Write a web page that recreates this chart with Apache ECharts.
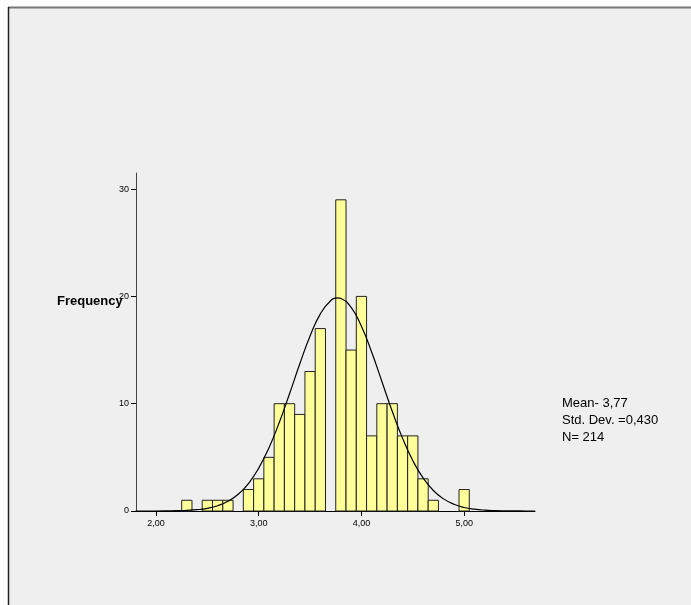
<!DOCTYPE html>
<html>
<head>
<meta charset="utf-8">
<script src="https://cdn.jsdelivr.net/npm/echarts@6/dist/echarts.min.js"></script>
<style>html,body{margin:0;padding:0;background:#fff;}#c{width:691px;height:605px;}</style>
</head>
<body>
<div id="c"></div>
<script>
// Histogram bins (centers) and frequencies
var binCenters = [2.3, 2.5, 2.6, 2.7, 2.9, 3.0, 3.1, 3.2, 3.3, 3.4, 3.5, 3.6, 3.8, 3.9, 4.0, 4.1, 4.2, 4.3, 4.4, 4.5, 4.6, 4.7, 5.0];
var frequencies = [1, 1, 1, 1, 2, 3, 5, 10, 10, 9, 13, 17, 29, 15, 20, 7, 10, 10, 7, 7, 3, 1, 2];
var binWidth = 0.1;
// Fitted normal curve as drawn (x, frequency)
var curveX = [1.8, 1.9, 2.0, 2.1, 2.2, 2.3, 2.4, 2.5, 2.6, 2.7, 2.8, 2.9, 3.0, 3.1, 3.2, 3.3, 3.4, 3.5, 3.6, 3.7, 3.77, 3.8, 3.9, 4.0, 4.1, 4.2, 4.3, 4.4, 4.5, 4.6, 4.7, 4.8, 4.9, 5.0, 5.1, 5.2, 5.3, 5.4, 5.5, 5.6, 5.69];
var curveY = [0.00, 0.00, 0.00, 0.01, 0.03, 0.06, 0.12, 0.25, 0.49, 0.90, 1.56, 2.56, 4.00, 5.90, 8.25, 10.93, 13.72, 16.31, 18.37, 19.60, 19.86, 19.81, 18.97, 17.21, 14.79, 12.05, 9.29, 6.79, 4.70, 3.08, 1.91, 1.13, 0.63, 0.33, 0.17, 0.08, 0.04, 0.02, 0.01, 0.00, 0.00];
var xTicks = [2, 3, 4, 5];
var yTicks = [0, 10, 20, 30];
var statsLines = ['Mean- 3,77', 'Std. Dev. =0,430', 'N= 214'];

var chart = echarts.init(document.getElementById('c'));
var font = 'Arial, "Liberation Sans", sans-serif';
var barData = binCenters.map(function (c, i) { return [c, frequencies[i]]; });
var curveData = curveX.map(function (x, i) { return [x, curveY[i]]; });

chart.setOption({
  animation: false,
  backgroundColor: '#ffffff',
  graphic: [
    { type: 'rect', z: -10, shape: { x: 8, y: 7, width: 683, height: 598 }, style: { fill: '#efefef' } },
    { type: 'line', z: -9, shape: { x1: 8, y1: 7.5, x2: 691, y2: 7.5 }, style: { stroke: '#777', lineWidth: 2 } },
    { type: 'line', z: -9, shape: { x1: 8.5, y1: 7, x2: 8.5, y2: 605 }, style: { stroke: '#222', lineWidth: 1.5 } },
    { type: 'text', left: 57, top: 295, z: 10, style: { text: 'Frequency', font: 'bold 13px ' + font, fill: '#000' } },
    { type: 'text', left: 562, top: 395, style: { text: statsLines.join('\n'), font: '13px ' + font, fill: '#000', lineHeight: 17 } }
  ],
  grid: { left: 136, right: 156, top: 173, bottom: 94 },
  xAxis: {
    type: 'value', min: 1.805, max: 5.69,
    axisLine: { show: true, onZero: false, lineStyle: { color: '#000', width: 1 } },
    axisTick: { show: true, length: 5, customValues: xTicks, lineStyle: { color: '#000' } },
    axisLabel: { customValues: xTicks, fontSize: 9, color: '#000', fontFamily: font, margin: 8,
      formatter: function (v) { return v.toFixed(2).replace('.', ','); } },
    splitLine: { show: false }
  },
  yAxis: {
    type: 'value', min: 0, max: 31.5,
    axisLine: { show: true, lineStyle: { color: '#444', width: 1 } },
    axisTick: { show: true, length: 5, customValues: yTicks, lineStyle: { color: '#000' } },
    axisLabel: { customValues: yTicks, fontSize: 9, color: '#000', fontFamily: font, margin: 7 },
    splitLine: { show: false }
  },
  series: [
    {
      type: 'custom',
      data: barData,
      renderItem: function (params, api) {
        var x = api.value(0), h = api.value(1);
        var p0 = api.coord([x - binWidth / 2, h]);
        var p1 = api.coord([x + binWidth / 2, 0]);
        return {
          type: 'rect',
          shape: { x: p0[0], y: p0[1], width: p1[0] - p0[0], height: p1[1] - p0[1] },
          style: { fill: '#ffff99', stroke: '#222', lineWidth: 1 }
        };
      }
    },
    {
      type: 'line',
      data: curveData,
      smooth: true,
      showSymbol: false,
      lineStyle: { color: '#000', width: 1.2 },
      z: 5
    }
  ]
});
</script>
</body>
</html>
